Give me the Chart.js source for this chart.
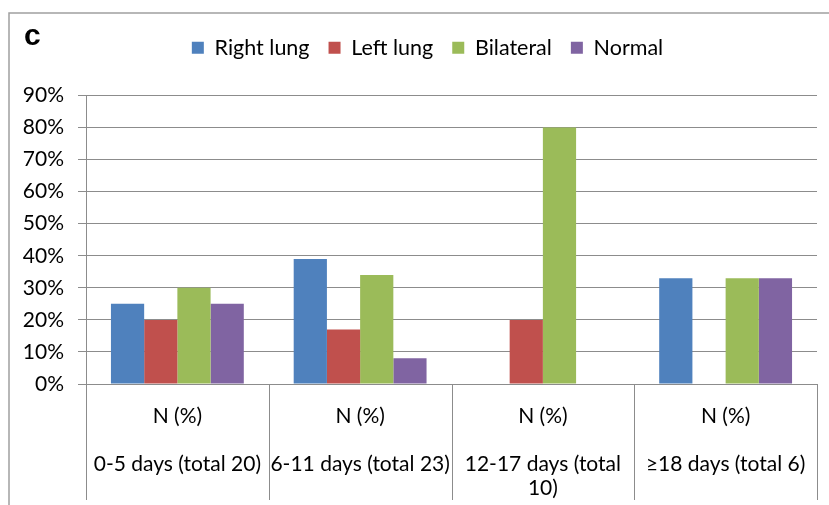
<!DOCTYPE html>
<html>
<head>
<meta charset="utf-8">
<script src="https://cdn.jsdelivr.net/npm/chart.js@4"></script>
<style>
  html, body { margin: 0; padding: 0; background: #fff; }
  #wrap { width: 829px; height: 505px; }
</style>
</head>
<body>
<div id="wrap"><canvas id="lungChart" width="829" height="505"></canvas></div>
<script>
// categories (multi-line tick labels)
const categories = [
    ['N (%)', '', '0-5 days (total 20)'],
    ['N (%)', '', '6-11 days (total 23)'],
    ['N (%)', '', '12-17 days (total', '10)'],
    ['N (%)', '', '\u226518 days (total 6)']
];
const rightLung = [25, 39, 0, 33];
const leftLung = [20, 17, 20, 0];
const bilateral = [30, 34, 80, 33];
const normal = [25, 8, 0, 33];
const yTicks = [0, 10, 20, 30, 40, 50, 60, 70, 80, 90];

const gridGray = '#8c8c8c';
const font = 'Lato, "Open Sans", sans-serif';

// frame, panel letter and category separators
const decor = {
    id: 'decor',
    beforeInit(chart) {
        const fit = chart.legend.fit;
        chart.legend.fit = function() {
            fit.bind(chart.legend)();
            this.height += 27;
        };
    },
    afterLayout(chart) {
        // legend sits a little right of the canvas centre
        chart.legend.left += 19;
        chart.legend.right += 19;
    },
    afterDraw(chart) {
        const c = chart.ctx;
        const x = chart.scales.x;
        const area = chart.chartArea;
        c.save();
        c.strokeStyle = '#a0a0a0';
        c.lineWidth = 1.5;
        c.beginPath();
        c.moveTo(9, 505);
        c.lineTo(9, 13);
        c.lineTo(829, 13);
        c.stroke();

        c.fillStyle = '#000';
        c.font = 'bold 30px "Liberation Sans", Arial, sans-serif';
        c.textBaseline = 'alphabetic';
        c.fillText('c', 24, 45);

        c.strokeStyle = gridGray;
        c.lineWidth = 1;
        const half = (x.getPixelForValue(1) - x.getPixelForValue(0)) / 2;
        for (let i = 0; i <= categories.length; i++) {
            const px = Math.round(x.getPixelForValue(i) - half) + 0.5;
            c.beginPath();
            c.moveTo(px, area.bottom);
            c.lineTo(px, 500);
            c.stroke();
        }
        c.restore();
    }
};

new Chart(document.getElementById('lungChart'), {
    type: 'bar',
    data: {
        labels: categories,
        datasets: [
            { label: 'Right lung', data: rightLung, backgroundColor: '#4F81BD' },
            { label: 'Left lung', data: leftLung, backgroundColor: '#C0504D' },
            { label: 'Bilateral', data: bilateral, backgroundColor: '#9BBB59' },
            { label: 'Normal', data: normal, backgroundColor: '#8064A2' }
        ]
    },
    options: {
        responsive: false,
        animation: false,
        layout: { padding: { left: 0, right: 12, top: 18, bottom: 0 } },
        datasets: {
            bar: { barPercentage: 1, categoryPercentage: 0.727 }
        },
        plugins: {
            legend: {
                position: 'top',
                labels: {
                    boxWidth: 12,
                    boxHeight: 12,
                    padding: 19,
                    color: '#000',
                    font: { family: font, size: 21.5 }
                }
            },
            tooltip: { enabled: false }
        },
        scales: {
            x: {
                grid: { display: false, drawTicks: false },
                border: { color: gridGray, width: 1 },
                ticks: {
                    color: '#000',
                    padding: 20,
                    maxRotation: 0,
                    autoSkip: false,
                    font: { family: font, size: 21, lineHeight: '24px' }
                },
                afterFit(scale) { scale.height = 121; }
            },
            y: {
                min: 0,
                max: 90,
                afterBuildTicks(scale) {
                    scale.ticks = yTicks.map(v => ({ value: v }));
                },
                grid: { color: gridGray, tickLength: 8, lineWidth: 1 },
                border: { color: gridGray, width: 1 },
                ticks: {
                    color: '#000',
                    padding: 14,
                    font: { family: font, size: 21 },
                    callback: v => v + '%'
                },
                afterFit(scale) { scale.width = 86; }
            }
        }
    },
    plugins: [decor]
});
</script>
</body>
</html>
